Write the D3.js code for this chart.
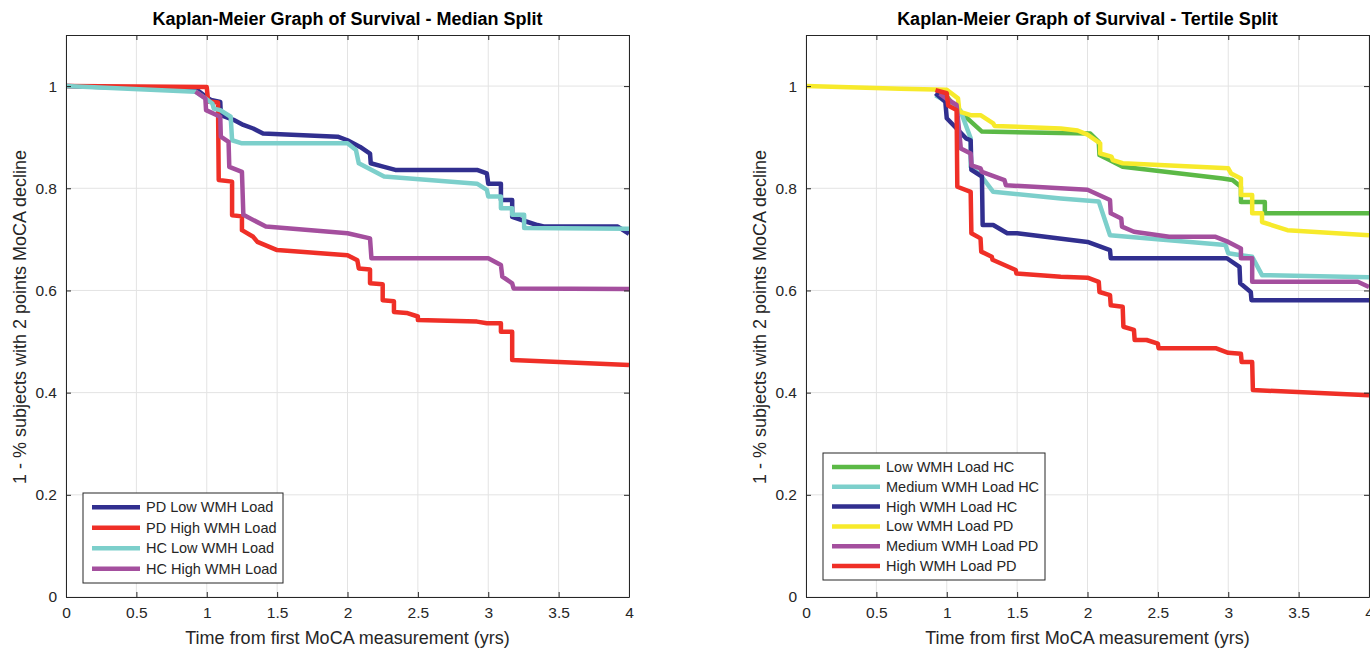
<!DOCTYPE html>
<html>
<head>
<meta charset="utf-8">
<script src="https://cdn.jsdelivr.net/npm/d3@7"></script>
<style>
  body { margin: 0; background: #fff; }
  text { font-family: "Liberation Sans", Arial, sans-serif; fill: #262626; }
</style>
</head>
<body>
<div id="chart"></div>
<script>
// --- data: [years, 1 - fraction declined] ---
var xTicks = [0, 0.5, 1, 1.5, 2, 2.5, 3, 3.5, 4];
var yTicks = [0, 0.2, 0.4, 0.6, 0.8, 1];

var medianNames = ['PD Low WMH Load', 'PD High WMH Load', 'HC Low WMH Load', 'HC High WMH Load'];
var medianColors = ['#312f8f', '#ef2f27', '#7ccfcb', '#a44f9e'];

var pdLow = [[0,1],[0.93,0.993],[1.0,0.978],[1.03,0.973],[1.096,0.969],[1.1,0.943],[1.19,0.934],[1.26,0.924],[1.33,0.917],[1.4,0.907],[1.93,0.901],[2.0,0.894],[2.09,0.881],[2.16,0.868],[2.165,0.849],[2.26,0.842],[2.34,0.836],[2.92,0.836],[2.99,0.829],[3.0,0.809],[3.09,0.809],[3.09,0.777],[3.17,0.777],[3.17,0.744],[3.28,0.734],[3.35,0.728],[3.4,0.725],[3.92,0.725],[4.0,0.711]];
var pdHigh = [[0,1],[1.0,0.998],[1.01,0.97],[1.08,0.968],[1.085,0.816],[1.18,0.813],[1.18,0.747],[1.25,0.745],[1.25,0.718],[1.33,0.705],[1.36,0.695],[1.5,0.679],[2.0,0.669],[2.07,0.659],[2.08,0.643],[2.16,0.641],[2.16,0.614],[2.25,0.612],[2.25,0.581],[2.33,0.579],[2.33,0.558],[2.42,0.556],[2.5,0.549],[2.5,0.542],[2.92,0.539],[2.99,0.536],[3.09,0.536],[3.09,0.519],[3.17,0.519],[3.17,0.464],[4.0,0.454]];
var hcLow = [[0,1],[0.92,0.989],[0.99,0.976],[1.04,0.966],[1.05,0.956],[1.096,0.953],[1.17,0.94],[1.18,0.894],[1.25,0.888],[2.0,0.888],[2.06,0.875],[2.08,0.849],[2.26,0.823],[2.92,0.809],[2.99,0.797],[3.0,0.784],[3.09,0.784],[3.09,0.761],[3.17,0.761],[3.17,0.748],[3.255,0.748],[3.255,0.722],[4.0,0.721]];
var hcHigh = [[0.92,0.989],[0.99,0.976],[0.995,0.953],[1.096,0.94],[1.1,0.901],[1.155,0.891],[1.16,0.842],[1.25,0.832],[1.26,0.748],[1.42,0.725],[2.0,0.712],[2.16,0.702],[2.17,0.663],[3.0,0.663],[3.09,0.65],[3.1,0.627],[3.17,0.614],[3.18,0.604],[4.0,0.603]];

var tertileNames = ['Low WMH Load HC', 'Medium WMH Load HC', 'High WMH Load HC', 'Low WMH Load PD', 'Medium WMH Load PD', 'High WMH Load PD'];
var tertileColors = ['#5bb946', '#7ccfcb', '#312f8f', '#f7ea2b', '#a44f9e', '#ef2f27'];

var lowHC = [[0.92,0.993],[1.0,0.98],[1.07,0.956],[1.25,0.911],[2.02,0.907],[2.08,0.891],[2.085,0.865],[2.16,0.855],[2.25,0.842],[2.96,0.819],[3.03,0.816],[3.09,0.803],[3.09,0.773],[3.26,0.773],[3.26,0.751],[4.0,0.751]];
var medHC = [[0.92,0.982],[1.0,0.969],[1.096,0.953],[1.17,0.898],[1.17,0.842],[1.24,0.826],[1.33,0.793],[1.81,0.78],[2.08,0.774],[2.16,0.708],[2.98,0.689],[3.0,0.673],[3.09,0.669],[3.17,0.666],[3.24,0.63],[4.0,0.626]];
var highHC = [[0.92,0.986],[0.99,0.969],[1.0,0.937],[1.07,0.917],[1.14,0.897],[1.17,0.894],[1.175,0.836],[1.25,0.823],[1.255,0.728],[1.33,0.728],[1.43,0.712],[1.5,0.712],[2.0,0.695],[2.16,0.679],[2.165,0.663],[2.99,0.663],[3.08,0.646],[3.085,0.614],[3.16,0.597],[3.165,0.581],[4.0,0.581]];
var lowPD = [[0,1],[0.67,0.995],[1.0,0.993],[1.08,0.976],[1.09,0.95],[1.17,0.943],[1.24,0.943],[1.33,0.927],[1.34,0.922],[1.81,0.917],[1.93,0.913],[2.0,0.905],[2.09,0.888],[2.09,0.868],[2.17,0.862],[2.18,0.855],[2.25,0.849],[3.0,0.839],[3.02,0.829],[3.09,0.819],[3.09,0.787],[3.17,0.787],[3.17,0.751],[3.24,0.751],[3.24,0.734],[3.42,0.718],[4.0,0.708]];
var medPD = [[0.95,0.985],[1.0,0.975],[1.07,0.963],[1.1,0.878],[1.17,0.868],[1.175,0.845],[1.24,0.839],[1.25,0.832],[1.41,0.816],[1.42,0.806],[1.81,0.8],[2.0,0.797],[2.16,0.777],[2.165,0.751],[2.24,0.741],[2.245,0.725],[2.33,0.715],[2.58,0.705],[2.91,0.705],[3.0,0.695],[3.09,0.682],[3.09,0.663],[3.17,0.663],[3.17,0.617],[3.92,0.617],[4.0,0.607]];
var highPD = [[0.92,0.992],[1.0,0.986],[1.01,0.962],[1.07,0.953],[1.075,0.803],[1.17,0.793],[1.175,0.712],[1.24,0.702],[1.245,0.676],[1.32,0.666],[1.325,0.66],[1.49,0.64],[1.495,0.633],[1.81,0.627],[2.0,0.625],[2.08,0.617],[2.085,0.597],[2.16,0.591],[2.165,0.571],[2.25,0.568],[2.255,0.529],[2.33,0.523],[2.335,0.503],[2.42,0.503],[2.5,0.496],[2.505,0.487],[2.91,0.487],[3.0,0.478],[3.09,0.476],[3.095,0.46],[3.17,0.46],[3.175,0.405],[4.0,0.395]];

var W = 1370, H = 649;
var svg = d3.select('#chart').append('svg').attr('width', W).attr('height', H);

var panels = [
  { left: 66, title: 'Kaplan-Meier Graph of Survival - Median Split',
    series: [pdLow, pdHigh, hcLow, hcHigh], names: medianNames, colors: medianColors,
    legend: { x: 83, y: 493, w: 200, h: 90 } },
  { left: 806, title: 'Kaplan-Meier Graph of Survival - Tertile Split',
    series: [lowHC, medHC, highHC, lowPD, medPD, highPD], names: tertileNames, colors: tertileColors,
    legend: { x: 823, y: 453, w: 222, h: 127 } }
];

var plotTop = 35, plotBottom = 597, pw = 563;

panels.forEach(function(p, pi) {
  var x = d3.scaleLinear().domain([0, 4]).range([p.left, p.left + pw]);
  var y = d3.scaleLinear().domain([0, 1.1]).range([plotBottom, plotTop]);
  var g = svg.append('g');

  // grid
  g.selectAll('.gx').data(xTicks).enter().append('line')
    .attr('x1', function(d) { return x(d); }).attr('x2', function(d) { return x(d); })
    .attr('y1', plotTop).attr('y2', plotBottom)
    .attr('stroke', '#e3e3e3').attr('stroke-width', 1);
  g.selectAll('.gy').data(yTicks).enter().append('line')
    .attr('x1', p.left).attr('x2', p.left + pw)
    .attr('y1', function(d) { return y(d); }).attr('y2', function(d) { return y(d); })
    .attr('stroke', '#e3e3e3').attr('stroke-width', 1);

  // curves
  var clipId = 'clip' + pi;
  svg.append('clipPath').attr('id', clipId).append('rect')
    .attr('x', p.left).attr('y', plotTop).attr('width', pw).attr('height', plotBottom - plotTop);
  var line = d3.line().x(function(d) { return x(d[0]); }).y(function(d) { return y(d[1]); });
  g.append('g').attr('clip-path', 'url(#' + clipId + ')')
    .selectAll('path').data(p.series).enter().append('path')
    .attr('d', line)
    .attr('fill', 'none')
    .attr('stroke', function(d, i) { return p.colors[i]; })
    .attr('stroke-width', 4.5)
    .attr('stroke-linejoin', 'round');

  // axes (box with inward ticks on all sides)
  g.append('g').attr('transform', 'translate(0,' + plotBottom + ')')
    .call(d3.axisBottom(x).tickValues(xTicks).tickSizeInner(-5).tickSizeOuter(0).tickPadding(10)
      .tickFormat(d3.format('')));
  g.append('g').attr('transform', 'translate(0,' + plotTop + ')')
    .call(d3.axisTop(x).tickValues(xTicks).tickSizeInner(-5).tickSizeOuter(0).tickFormat(''));
  g.append('g').attr('transform', 'translate(' + p.left + ',0)')
    .call(d3.axisLeft(y).tickValues(yTicks).tickSizeInner(-5).tickSizeOuter(0).tickPadding(9)
      .tickFormat(d3.format('')));
  g.append('g').attr('transform', 'translate(' + (p.left + pw) + ',0)')
    .call(d3.axisRight(y).tickValues(yTicks).tickSizeInner(-5).tickSizeOuter(0).tickFormat(''));
  g.selectAll('.domain').attr('stroke', '#262626');
  g.selectAll('.tick line').attr('stroke', '#262626');
  g.selectAll('.tick text').style('font-size', '15.5px').attr('fill', '#262626');

  // titles and labels
  g.append('text').attr('x', p.left + pw / 2).attr('y', 25)
    .attr('text-anchor', 'middle').style('font-size', '18px').style('font-weight', 'bold')
    .style('fill', '#000').text(p.title);
  g.append('text').attr('x', p.left + pw / 2).attr('y', 644)
    .attr('text-anchor', 'middle').style('font-size', '18px')
    .text('Time from first MoCA measurement (yrs)');
  g.append('text').attr('transform', 'translate(' + (p.left - 40) + ',' + 317 + ') rotate(-90)')
    .attr('text-anchor', 'middle').style('font-size', '18px')
    .text('1 - % subjects with 2 points MoCA decline');

  // legend
  var L = p.legend;
  var lg = g.append('g');
  lg.append('rect').attr('x', L.x).attr('y', L.y).attr('width', L.w).attr('height', L.h)
    .attr('fill', '#fff').attr('stroke', '#262626').attr('stroke-width', 1);
  var row = (L.h - 8) / p.names.length;
  p.names.forEach(function(name, i) {
    var cy = L.y + 4 + row * (i + 0.5);
    lg.append('line').attr('x1', L.x + 9).attr('x2', L.x + 57)
      .attr('y1', cy).attr('y2', cy)
      .attr('stroke', p.colors[i]).attr('stroke-width', 4.5);
    lg.append('text').attr('x', L.x + 63).attr('y', cy + 5)
      .style('font-size', '14.5px').text(name);
  });
});
</script>
</body>
</html>
